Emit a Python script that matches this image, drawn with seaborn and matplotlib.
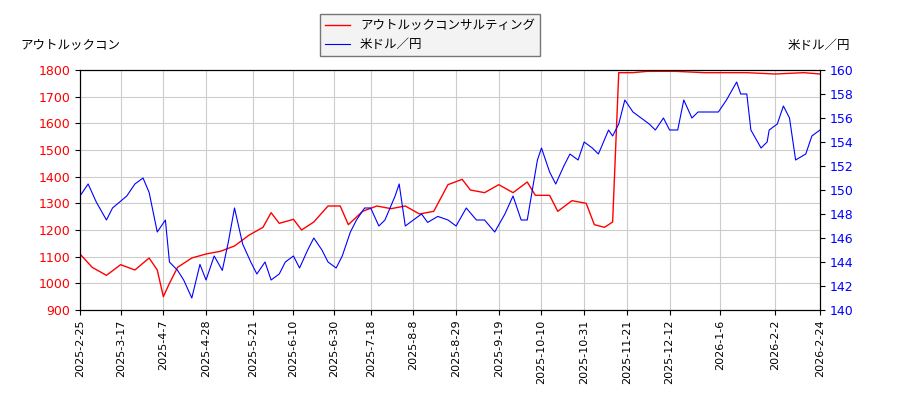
import matplotlib
matplotlib.use("Agg")
import matplotlib.pyplot as plt
import seaborn as sns
import pandas as pd

red_dates = ["2025-02-25","2025-03-03","2025-03-10","2025-03-17","2025-03-24","2025-03-31","2025-04-04","2025-04-07","2025-04-10","2025-04-14","2025-04-21","2025-04-28","2025-05-05","2025-05-12","2025-05-19","2025-05-26","2025-05-30","2025-06-03","2025-06-10","2025-06-14","2025-06-20","2025-06-27","2025-07-03","2025-07-07","2025-07-14","2025-07-21","2025-07-28","2025-08-04","2025-08-11","2025-08-18","2025-08-25","2025-09-01","2025-09-05","2025-09-12","2025-09-19","2025-09-26","2025-10-03","2025-10-07","2025-10-14","2025-10-18","2025-10-25","2025-11-01","2025-11-05","2025-11-10","2025-11-14","2025-11-17","2025-11-24","2025-12-01","2025-12-15","2025-12-29","2026-01-05","2026-01-19","2026-02-02","2026-02-16","2026-02-24"]
red_vals = [1110,1060,1030,1070,1050,1095,1050,950,1000,1060,1095,1110,1120,1140,1180,1210,1265,1225,1240,1200,1230,1290,1290,1220,1270,1290,1280,1290,1260,1270,1370,1390,1350,1340,1370,1340,1380,1330,1330,1270,1310,1300,1220,1210,1230,1790,1790,1795,1795,1790,1790,1790,1785,1790,1785]

blue_dates = ["2025-02-25","2025-03-01","2025-03-05","2025-03-10","2025-03-13","2025-03-20","2025-03-24","2025-03-28","2025-03-31","2025-04-04","2025-04-08","2025-04-10","2025-04-14","2025-04-17","2025-04-21","2025-04-25","2025-04-28","2025-05-02","2025-05-06","2025-05-09","2025-05-12","2025-05-16","2025-05-20","2025-05-23","2025-05-27","2025-05-30","2025-06-03","2025-06-06","2025-06-10","2025-06-13","2025-06-17","2025-06-20","2025-06-24","2025-06-27","2025-07-01","2025-07-04","2025-07-08","2025-07-11","2025-07-15","2025-07-18","2025-07-22","2025-07-25","2025-07-30","2025-08-01","2025-08-04","2025-08-08","2025-08-12","2025-08-15","2025-08-20","2025-08-25","2025-08-29","2025-09-03","2025-09-08","2025-09-12","2025-09-17","2025-09-22","2025-09-26","2025-09-30","2025-10-03","2025-10-08","2025-10-10","2025-10-14","2025-10-17","2025-10-21","2025-10-24","2025-10-28","2025-10-31","2025-11-04","2025-11-07","2025-11-12","2025-11-14","2025-11-17","2025-11-20","2025-11-24","2025-11-28","2025-12-02","2025-12-05","2025-12-09","2025-12-12","2025-12-16","2025-12-19","2025-12-23","2025-12-26","2025-12-30","2026-01-05","2026-01-09","2026-01-14","2026-01-16","2026-01-19","2026-01-21","2026-01-26","2026-01-29","2026-01-30","2026-02-03","2026-02-06","2026-02-09","2026-02-12","2026-02-17","2026-02-20","2026-02-24"]
blue_vals = [149.5,150.5,149,147.5,148.5,149.5,150.5,151,149.8,146.5,147.5,144,143.3,142.5,141,143.8,142.5,144.5,143.3,145.7,148.5,145.5,144,143,144,142.5,143,144,144.5,143.5,145,146,145,144,143.5,144.5,146.5,147.5,148.5,148.5,147,147.5,149.5,150.5,147,147.5,148,147.3,147.8,147.5,147,148.5,147.5,147.5,146.5,148,149.5,147.5,147.5,152.5,153.5,151.5,150.5,152,153,152.5,154,153.5,153,155,154.5,155.5,157.5,156.5,156,155.5,155,156,155,155,157.5,156,156.5,156.5,156.5,157.5,159,158,158,155,153.5,154,155,155.5,157,156,152.5,153,154.5,155]

tick_dates = ["2025-02-25","2025-03-17","2025-04-07","2025-04-28","2025-05-21","2025-06-10","2025-06-30","2025-07-18","2025-08-08","2025-08-29","2025-09-19","2025-10-10","2025-10-31","2025-11-21","2025-12-12","2026-01-06","2026-02-02","2026-02-24"]
tick_labels = ["2025-2-25","2025-3-17","2025-4-7","2025-4-28","2025-5-21","2025-6-10","2025-6-30","2025-7-18","2025-8-8","2025-8-29","2025-9-19","2025-10-10","2025-10-31","2025-11-21","2025-12-12","2026-1-6","2026-2-2","2026-2-24"]
left_ticks = [900,1000,1100,1200,1300,1400,1500,1600,1700,1800]
right_ticks = [140,142,144,146,148,150,152,154,156,158,160]

red_df = pd.DataFrame({"date": pd.to_datetime(red_dates), "v": red_vals})
blue_df = pd.DataFrame({"date": pd.to_datetime(blue_dates), "v": blue_vals})

plt.rcParams['font.family'] = ['Noto Sans CJK JP', 'DejaVu Sans']
fig = plt.figure(figsize=(9, 4), dpi=100)
ax = fig.add_axes([80/900, 90/400, 740/900, 240/400])
ax2 = ax.twinx()
sns.lineplot(data=red_df, x="date", y="v", ax=ax, color="red", lw=1, label="アウトルックコンサルティング", legend=False)
sns.lineplot(data=blue_df, x="date", y="v", ax=ax2, color="blue", lw=0.8, label="米ドル／円", legend=False)
ax.set_ylim(900, 1800)
ax2.set_ylim(140, 160)
ax.set_yticks(left_ticks)
ax.set_yticklabels([str(t) for t in left_ticks], color="red", fontsize=9, family='DejaVu Sans')
ax2.set_yticks(right_ticks)
ax2.set_yticklabels([str(t) for t in right_ticks], color="blue", fontsize=9, family='DejaVu Sans')
ax.set_xlim(pd.Timestamp("2025-02-25"), pd.Timestamp("2026-02-24"))
ax.set_xticks(pd.to_datetime(tick_dates))
ax.set_xticklabels(tick_labels, rotation=90, fontsize=8, family='DejaVu Sans')
ax.grid(True, color="#cccccc", lw=0.8)
ax.set_xlabel(""); ax.set_ylabel(""); ax2.set_ylabel("")
fig.text(20/900, 1-45/400, "アウトルックコン", fontsize=9, va="center")
fig.text(850/900, 1-45/400, "米ドル／円", fontsize=9, va="center", ha="right")
h1, l1 = ax.get_legend_handles_labels()
h2, l2 = ax2.get_legend_handles_labels()
fig.legend(h1 + h2, l1 + l2, loc="center", bbox_to_anchor=(430/900, 1-35/400), fontsize=9, frameon=True, fancybox=False, edgecolor="#555555", facecolor="#f0f0f0")
fig.savefig("out.png", dpi=100)
